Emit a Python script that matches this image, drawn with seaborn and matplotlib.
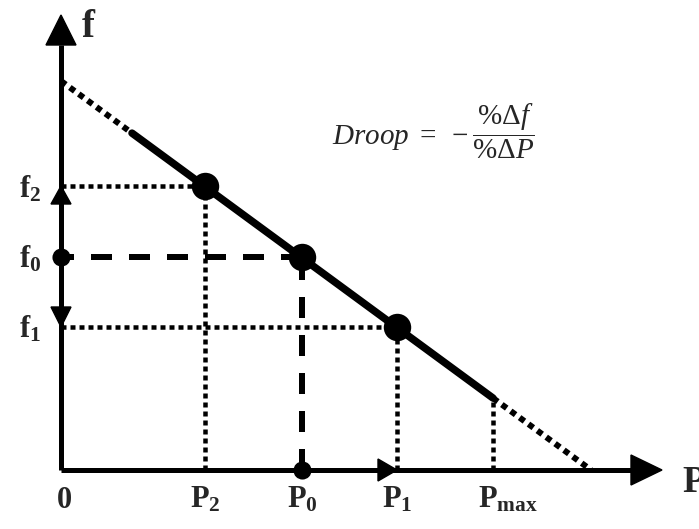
import numpy as np
import pandas as pd
import seaborn as sns
import matplotlib
matplotlib.use("Agg")
import matplotlib.pyplot as plt
from matplotlib.patches import Polygon

# ---------------- data (diagram units: origin at axes crossing) ----------------
f_intercept = 389          # frequency where droop line meets f axis
P_zero = 530               # power where droop line meets P axis
P_solid_start = 71         # solid part of droop line starts here
P_names = ["P_{2}", "P_{0}", "P_{1}", "P_{max}"]
P_vals = [144, 241, 336, 432]
f_names = ["f_{2}", "f_{0}", "f_{1}"]
f_vals = [284, 213, 143]
pt_P = [144, 241, 336]      # operating points (P2, P0, P1)
pt_f = [284, 213, 143]
P_max = 432
formula = r"$Droop\ =\ -\dfrac{\%\Delta f}{\%\Delta P}$"

# ---------------- style ----------------
sns.set_theme(style="white")
plt.rcParams["font.family"] = ["Liberation Serif", "DejaVu Serif"]
plt.rcParams["mathtext.fontset"] = "custom"
plt.rcParams["mathtext.rm"] = "Liberation Serif"
plt.rcParams["mathtext.it"] = "Liberation Serif:italic"
plt.rcParams["mathtext.bf"] = "Liberation Serif:bold"
plt.rcParams["lines.scale_dashes"] = False

PX = 0.72  # points per pixel at dpi 100

fig = plt.figure(figsize=(6.99, 5.29), dpi=100)
ax = fig.add_axes([0, 0, 1, 1])
ax.set_xlim(-61, 638)
ax.set_ylim(-59, 470)
ax.axis("off")

def line_f(p):
    return f_intercept * (1 - np.asarray(p, dtype=float) / P_zero)

K = "black"

# axes lines
x_tip, y_tip = 601, 455
ax.plot([0, x_tip - 31], [0, 0], color=K, lw=5 * PX, solid_capstyle="butt", zorder=3)
ax.plot([0, 0], [0, y_tip - 30], color=K, lw=5 * PX, solid_capstyle="butt", zorder=3)
ax.add_patch(Polygon([[x_tip, 0], [x_tip - 31, 15], [x_tip - 31, -15]], closed=True, color=K, zorder=3))
ax.add_patch(Polygon([[0, y_tip], [-15, y_tip - 30], [15, y_tip - 30]], closed=True, color=K, zorder=3))

# droop line: dotted extensions + solid middle
dot_diag = (0, (6 * PX, 5 * PX))
p1 = np.array([0, P_solid_start])
ax.plot(p1, line_f(p1), color=K, lw=6 * PX, linestyle=dot_diag, dash_capstyle="butt", zorder=2)
p3 = np.array([P_max, P_zero])
ax.plot(p3, line_f(p3), color=K, lw=6 * PX, linestyle=dot_diag, dash_capstyle="butt", zorder=2)
solid = pd.DataFrame({"P": [P_solid_start, P_max], "f": line_f([P_solid_start, P_max])})
sns.lineplot(data=solid, x="P", y="f", ax=ax, color=K, lw=7.5 * PX, zorder=4)

# projection lines
dot_thin = (0, (5 * PX, 4 * PX))
for p, f, i in zip(pt_P, pt_f, range(3)):
    if i == 1:
        dash = (0, (21 * PX, 17 * PX))
        ax.plot([p, 0], [f, f], color=K, lw=6 * PX, linestyle=dash, dash_capstyle="butt", zorder=1)
        ax.plot([p, p], [0, f], color=K, lw=6 * PX, linestyle=dash, dash_capstyle="butt", zorder=1)
    else:
        ax.plot([0, p], [f, f], color=K, lw=4.5 * PX, linestyle=dot_thin, dash_capstyle="butt", zorder=1)
        ax.plot([p, p], [0, f], color=K, lw=4.5 * PX, linestyle=dot_thin, dash_capstyle="butt", zorder=1)
fm = float(line_f(P_max))
ax.plot([P_max, P_max], [0, fm], color=K, lw=4.5 * PX, linestyle=dot_thin, dash_capstyle="butt", zorder=1)

# operating points
pts = pd.DataFrame({"P": pt_P, "f": pt_f})
sns.scatterplot(data=pts, x="P", y="f", ax=ax, color=K, s=390, edgecolor=K, linewidth=0, zorder=5)
# small dots at f0 and P0 on the axes
small = pd.DataFrame({"P": [0, P_vals[1]], "f": [f_vals[1], 0]})
sns.scatterplot(data=small, x="P", y="f", ax=ax, color=K, s=170, edgecolor=K, linewidth=0, zorder=5)

# small arrowheads showing changes
f2, f0, f1 = f_vals
ax.add_patch(Polygon([[0, f2], [-10, f2 - 18], [10, f2 - 18]], closed=True, color=K, zorder=5))
ax.add_patch(Polygon([[0, f1], [-10, f1 + 20], [10, f1 + 20]], closed=True, color=K, zorder=5))
Pp1 = P_vals[2]
ax.add_patch(Polygon([[Pp1, 0], [Pp1 - 19, 11], [Pp1 - 19, -11]], closed=True, color=K, zorder=5))

# labels
fs = 22
ax.text(3, -38, "0", ha="center", va="baseline", fontsize=fs, fontweight="bold")
for name, p in zip(P_names, P_vals):
    ax.text(p - 15, -38, r"$\mathbf{" + name + "}$", ha="left", va="baseline", fontsize=fs)
for name, f in zip(f_names, f_vals):
    ax.text(-20, f - 11, r"$\mathbf{" + name + "}$", ha="right", va="baseline", fontsize=fs)
ax.text(21, 433, "f", ha="left", va="baseline", fontsize=28, fontweight="bold")
ax.text(621, -22, "P", ha="left", va="baseline", fontsize=27, fontweight="bold", clip_on=False)
ax.text(271, 339, formula, ha="left", va="center", fontsize=21)

fig.savefig("out.png", dpi=100)
